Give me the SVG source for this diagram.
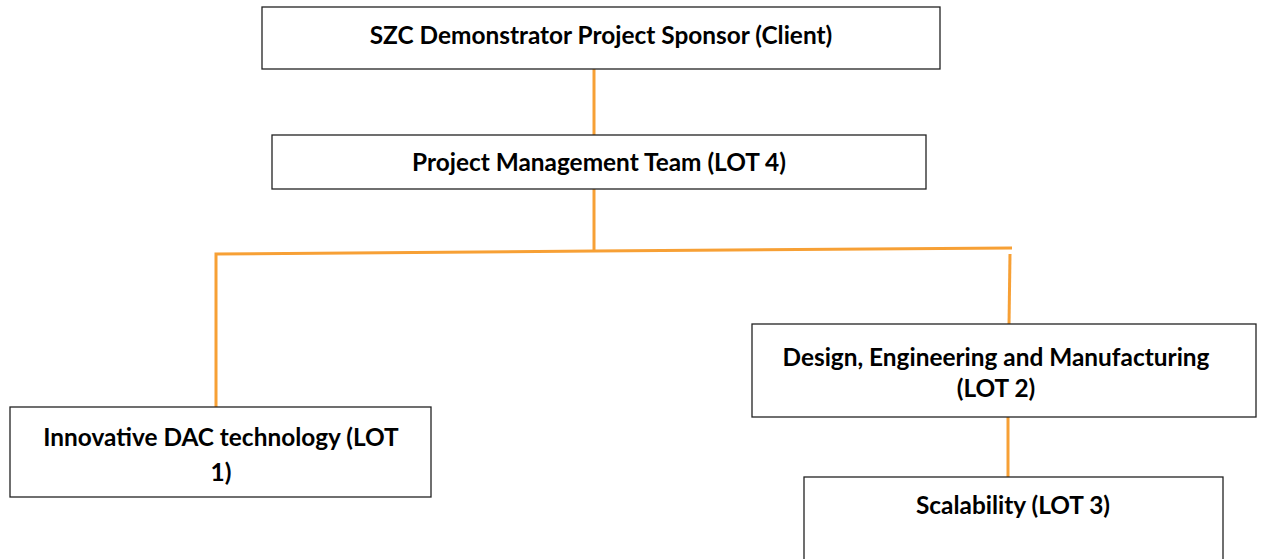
<svg xmlns="http://www.w3.org/2000/svg" width="1266" height="559" viewBox="0 0 1266 559">
  <style>
    .box { fill: #ffffff; stroke: #222222; stroke-width: 1.3; }
    .lbl { font-family: Lato, "Liberation Sans", sans-serif; font-weight: bold; font-size: 24.4px; fill: #000000; text-anchor: middle; }
    .link { fill: none; stroke: #F7A035; stroke-width: 3; }
  </style>
  <rect width="1266" height="559" fill="#ffffff"/>

  <g id="connectors">
    <line class="link" x1="594" y1="69" x2="594" y2="136"/>
    <line class="link" x1="594" y1="189" x2="594" y2="252"/>
    <polyline class="link" points="216,407 216,254 594,251 1012,248"/>
    <line class="link" x1="1010" y1="254" x2="1009" y2="325"/>
    <line class="link" x1="1008" y1="417" x2="1008" y2="477"/>
  </g>

  <g id="sponsor">
    <rect class="box" x="262" y="7" width="678" height="62"/>
    <text class="lbl" x="601" y="44">SZC Demonstrator Project Sponsor (Client)</text>
  </g>

  <g id="pmt">
    <rect class="box" x="272" y="135" width="654" height="54"/>
    <text class="lbl" x="599" y="171">Project Management Team (LOT 4)</text>
  </g>

  <g id="lot1">
    <rect class="box" x="10" y="407" width="421" height="90"/>
    <text class="lbl" x="221" y="446">Innovative DAC technology (LOT</text>
    <text class="lbl" x="221" y="481">1)</text>
  </g>

  <g id="lot2">
    <rect class="box" x="752" y="324" width="504" height="93"/>
    <text class="lbl" x="996" y="366">Design, Engineering and Manufacturing</text>
    <text class="lbl" x="996" y="397">(LOT 2)</text>
  </g>

  <g id="lot3">
    <rect class="box" x="804" y="477" width="419" height="100"/>
    <text class="lbl" x="1013" y="514">Scalability (LOT 3)</text>
  </g>
</svg>
